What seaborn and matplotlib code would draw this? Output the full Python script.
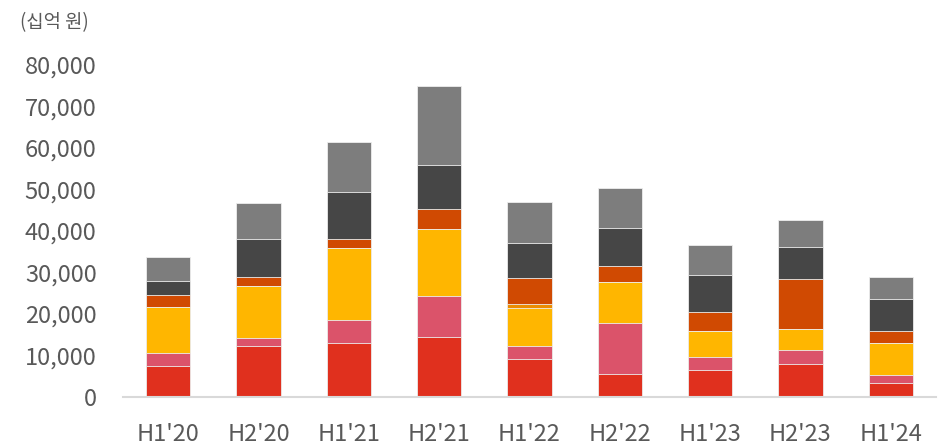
import matplotlib
matplotlib.use("Agg")
import matplotlib.pyplot as plt
import numpy as np
import pandas as pd
import seaborn as sns

# 반기별 구성 (단위: 십억 원)
periods = ["H1'20", "H2'20", "H1'21", "H2'21", "H1'22", "H2'22", "H1'23", "H2'23", "H1'24"]
seg_red = [7500, 12350, 13100, 14500, 9250, 5450, 6600, 7850, 3300]
seg_rose = [3100, 1800, 5450, 9900, 3100, 12450, 3100, 3450, 2100]
seg_yellow = [11000, 12500, 17300, 16100, 9100, 9750, 6200, 5100, 7700]
seg_tangerine = [0, 0, 0, 0, 900, 0, 0, 0, 0]
seg_orange = [2900, 2250, 2250, 4900, 6300, 3850, 4600, 11950, 2900]
seg_dark = [3450, 9250, 11300, 10600, 8550, 9300, 9000, 7850, 7550]
seg_grey = [5700, 8650, 12100, 19000, 9700, 9650, 7150, 6500, 5400]

series = [seg_red, seg_rose, seg_yellow, seg_tangerine, seg_orange, seg_dark, seg_grey]
colors = ["#E0301E", "#DB536A", "#FFB600", "#EB8C00", "#D04A02", "#464646", "#7D7D7D"]

sns.set_theme(style="white")
plt.rcParams["font.family"] = ["Noto Sans CJK KR", "DejaVu Sans"]

fig = plt.figure(figsize=(9.43, 4.48), dpi=100)
ax = fig.add_axes([123 / 943, 1 - 397 / 448, (936 - 123) / 943, (397 - 65) / 448])

# stacked bars: draw cumulative totals from the top layer down
cum = np.cumsum(np.array(series, dtype=float), axis=0)
for i in range(len(series) - 1, -1, -1):
    df = pd.DataFrame({"period": periods, "value": cum[i]})
    sns.barplot(data=df, x="period", y="value", color=colors[i], saturation=1,
                width=0.49, edgecolor="#EDEDED", linewidth=0.6, ax=ax)

ax.set_xlim(-0.5, 8.5)
ax.set_ylim(0, 80000)
ax.set_yticks(np.arange(0, 80001, 10000))
ax.yaxis.set_major_formatter(matplotlib.ticker.FuncFormatter(lambda v, p: f"{int(v):,}"))
ax.set_xlabel("")
ax.set_ylabel("")

for s in ["top", "right", "left"]:
    ax.spines[s].set_visible(False)
ax.spines["bottom"].set_color("#D9D9D9")
ax.spines["bottom"].set_linewidth(1.5)

ax.tick_params(axis="y", length=0, pad=19, labelsize=17, labelcolor="#595959")
ax.tick_params(axis="x", length=0, pad=19, labelsize=17, labelcolor="#595959")
ax.grid(False)

fig.text(20 / 943, 1 - 12 / 448, "(십억 원)", fontsize=13.5, color="#595959",
         ha="left", va="top")

fig.savefig("out.png", dpi=100)
